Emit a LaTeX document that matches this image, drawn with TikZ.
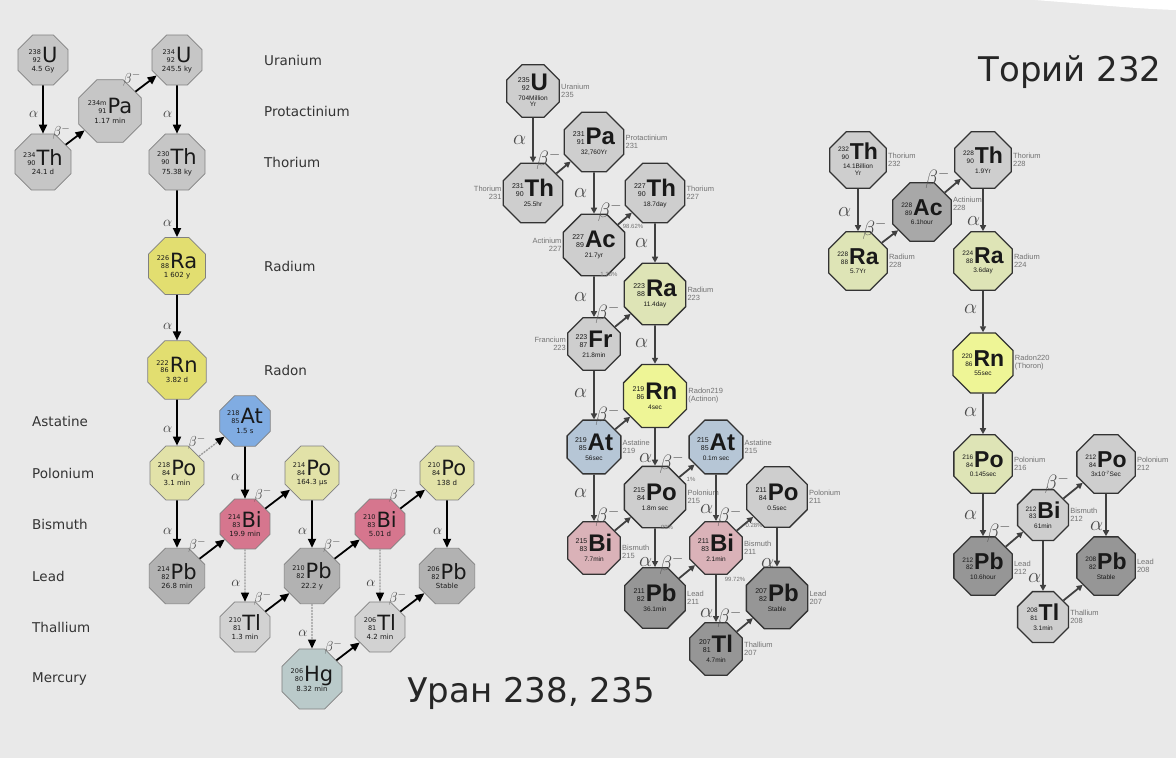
\documentclass[tikz,border=0pt]{standalone}
\usepackage{fontspec}
\setmainfont{DejaVu Sans}
\newfontfamily\symfont{Liberation Sans}
\usetikzlibrary{shapes.geometric,arrows.meta}

% colours
\definecolor{bgc}{RGB}{233,233,233}
\definecolor{gry}{RGB}{198,198,198}
\definecolor{pbg}{RGB}{178,178,178}
\definecolor{tlg}{RGB}{210,210,210}
\definecolor{ylw}{RGB}{226,222,112}
\definecolor{poy}{RGB}{226,226,168}
\definecolor{atb}{RGB}{128,172,226}
\definecolor{bip}{RGB}{214,118,142}
\definecolor{hgb}{RGB}{186,202,202}
\definecolor{mgry}{RGB}{206,206,206}
\definecolor{mdrk}{RGB}{150,150,150}
\definecolor{macg}{RGB}{168,168,168}
\definecolor{mra}{RGB}{222,228,182}
\definecolor{mrn}{RGB}{238,245,150}
\definecolor{mat}{RGB}{182,198,214}
\definecolor{mbi}{RGB}{218,178,184}

% isotope text: mass, charge, symbol, half-life
\def\numsz{6}\def\hlsz{6.5}
\newcommand{\iso}[4]{{\mdseries\fontsize{\numsz}{\numsz}\selectfont\shortstack[r]{#1\\#2}}\kern1pt#3\\[-1pt]{\mdseries\fontsize{\hlsz}{\hlsz}\selectfont #4}}
\newcommand{\twoline}[2]{\begin{tabular}[t]{@{}c@{}}#1\\#2\end{tabular}}

\tikzset{
  nuc/.style={regular polygon, regular polygon sides=8, minimum size=54pt, inner sep=0pt,
    draw=black!50, line width=0.7pt, align=center, text=black!90,
    font=\def\numsz{6.5}\def\hlsz{7}\fontsize{21}{10.5}\selectfont},
  nucm/.style={nuc, minimum size=57pt, draw=black!80, line width=1.3pt,
    font=\def\numsz{7}\def\hlsz{6.5}\symfont\bfseries\fontsize{24}{11}\selectfont},
  nucr/.style={nucm, minimum size=55pt,
    font=\def\numsz{6.5}\def\hlsz{6.5}\symfont\bfseries\fontsize{23}{10.5}\selectfont},
  elem/.style={font=\fontsize{13.5}{14}\selectfont, text=black!80, anchor=west, inner sep=0pt},
  side/.style={font=\symfont\fontsize{7.5}{8}\selectfont, text=black!55, align=left, inner sep=1pt},
  pct/.style={font=\symfont\fontsize{6}{7}\selectfont, text=black!55, inner sep=0pt},
  decay/.style={-{Triangle[length=9pt,width=8pt]}, line width=1.8pt},
  branch/.style={-{Triangle[length=9pt,width=8pt,black]}, line width=1.3pt, draw=black!40,
    dash pattern=on 2pt off 1pt},
  decaym/.style={-{Triangle[length=6pt,width=6pt]}, line width=1.8pt, draw=black!75},
  lbl/.style={font=\fontsize{15}{15}\selectfont, text=black!75, inner sep=1pt},
  lblm/.style={font=\fontsize{20}{20}\selectfont, text=black!70, inner sep=1pt},
}

\begin{document}
\begin{tikzpicture}[x=1pt, y=-1pt]

  \useasboundingbox (0,0) rectangle (1176,758);
  \fill[bgc] (0,0) rectangle (1176,758);
  \fill[white] (1035,0) .. controls (1100,5) and (1140,9) .. (1176,10) -- (1176,0) -- cycle;

  % ---- uranium 238 series
  \node[nuc, fill=gry] (u238) at (43,60) {\iso{238}{92}{U}{4.5 Gy}};
  \node[nuc, fill=gry] (th234) at (43,162) {\iso{234}{90}{Th}{24.1 d}};
  \node[nuc, fill=gry] (pa234) at (110,111) {\iso{234m}{91}{Pa}{1.17 min}};
  \node[nuc, fill=gry] (u234) at (177,60) {\iso{234}{92}{U}{245.5 ky}};
  \node[nuc, fill=gry] (th230) at (177,162) {\iso{230}{90}{Th}{75.38 ky}};
  \node[nuc, fill=ylw] (ra226) at (177,266) {\iso{226}{88}{Ra}{1 602 y}};
  \node[nuc, fill=ylw] (rn222) at (177,370) {\iso{222}{86}{Rn}{3.82 d}};
  \node[nuc, fill=atb] (at218) at (245,421) {\iso{218}{85}{At}{1.5 s}};
  \node[nuc, fill=poy] (po218) at (177,473) {\iso{218}{84}{Po}{3.1 min}};
  \node[nuc, fill=pbg] (pb214) at (177,576) {\iso{214}{82}{Pb}{26.8 min}};
  \node[nuc, fill=bip] (bi214) at (245,524) {\iso{214}{83}{Bi}{19.9 min}};
  \node[nuc, fill=poy] (po214) at (312,473) {\iso{214}{84}{Po}{164.3 μs}};
  \node[nuc, fill=tlg] (tl210) at (245,627) {\iso{210}{81}{Tl}{1.3 min}};
  \node[nuc, fill=pbg] (pb210) at (312,576) {\iso{210}{82}{Pb}{22.2 y}};
  \node[nuc, fill=bip] (bi210) at (380,524) {\iso{210}{83}{Bi}{5.01 d}};
  \node[nuc, fill=poy] (po210) at (447,473) {\iso{210}{84}{Po}{138 d}};
  \node[nuc, fill=hgb] (hg206) at (312,679) {\iso{206}{80}{Hg}{8.32 min}};
  \node[nuc, fill=tlg] (tl206) at (380,627) {\iso{206}{81}{Tl}{4.2 min}};
  \node[nuc, fill=pbg] (pb206) at (447,576) {\iso{206}{82}{Pb}{Stable}};

  \node[elem] (n-u) at (264,60) {Uranium};
  \node[elem] (n-pa) at (264,111) {Protactinium};
  \node[elem] (n-th) at (264,162) {Thorium};
  \node[elem] (n-ra) at (264,266) {Radium};
  \node[elem] (n-rn) at (264,370) {Radon};
  \node[elem] (n-at) at (32,421) {Astatine};
  \node[elem] (n-po) at (32,473) {Polonium};
  \node[elem] (n-bi) at (32,524) {Bismuth};
  \node[elem] (n-pb) at (32,576) {Lead};
  \node[elem] (n-tl) at (32,627) {Thallium};
  \node[elem] (n-hg) at (32,679) {Mercury};

  \draw[decay] (u238) -- node[lbl, pos=.6, left=3pt] (a1) {$\alpha$} (th234);
  \draw[decay] (th234) -- node[lbl, pos=.3, above left=-1pt] (b1) {$\beta^-$} (pa234);
  \draw[decay] (pa234) -- node[lbl, pos=.3, above left=-1pt] (b2) {$\beta^-$} (u234);
  \draw[decay] (u234) -- node[lbl, pos=.6, left=3pt] (a2) {$\alpha$} (th230);
  \draw[decay] (th230) -- node[lbl, pos=.7, left=3pt] (a3) {$\alpha$} (ra226);
  \draw[decay] (ra226) -- node[lbl, pos=.7, left=3pt] (a4) {$\alpha$} (rn222);
  \draw[decay] (rn222) -- node[lbl, pos=.65, left=3pt] (a5) {$\alpha$} (po218);
  \draw[branch] (po218) -- node[lbl, pos=.3, above left=-1pt] (b3) {$\beta^-$} (at218);
  \draw[decay] (po218) -- node[lbl, pos=.65, left=3pt] (a6) {$\alpha$} (pb214);
  \draw[decay] (at218) -- node[lbl, pos=.6, left=3pt] (a7) {$\alpha$} (bi214);
  \draw[decay] (pb214) -- node[lbl, pos=.3, above left=-1pt] (b4) {$\beta^-$} (bi214);
  \draw[decay] (bi214) -- node[lbl, pos=.3, above left=-1pt] (b5) {$\beta^-$} (po214);
  \draw[branch] (bi214) -- node[lbl, pos=.65, left=3pt] (a8) {$\alpha$} (tl210);
  \draw[decay] (po214) -- node[lbl, pos=.65, left=3pt] (a9) {$\alpha$} (pb210);
  \draw[decay] (tl210) -- node[lbl, pos=.3, above left=-1pt] (b6) {$\beta^-$} (pb210);
  \draw[decay] (pb210) -- node[lbl, pos=.3, above left=-1pt] (b7) {$\beta^-$} (bi210);
  \draw[branch] (pb210) -- node[lbl, pos=.65, left=3pt] (a10) {$\alpha$} (hg206);
  \draw[decay] (bi210) -- node[lbl, pos=.3, above left=-1pt] (b8) {$\beta^-$} (po210);
  \draw[branch] (bi210) -- node[lbl, pos=.65, left=3pt] (a11) {$\alpha$} (tl206);
  \draw[decay] (po210) -- node[lbl, pos=.65, left=3pt] (a12) {$\alpha$} (pb206);
  \draw[decay] (hg206) -- node[lbl, pos=.3, above left=-1pt] (b9) {$\beta^-$} (tl206);
  \draw[decay] (tl206) -- node[lbl, pos=.3, above left=-1pt] (b10) {$\beta^-$} (pb206);

  % ---- uranium 235 series
  \node[nucm, fill=mgry] (u235) at (533,91) {\iso{235}{92}{U}{\twoline{704Million}{Yr}}};
  \node[nucm, fill=mgry] (pa231) at (594,142) {\iso{231}{91}{Pa}{32,760Yr}};
  \node[nucm, fill=mgry] (th231) at (533,193) {\iso{231}{90}{Th}{25.5hr}};
  \node[nucm, fill=mgry] (ac227) at (594,245) {\iso{227}{89}{Ac}{21.7yr}};
  \node[nucm, fill=mgry] (th227) at (655,193) {\iso{227}{90}{Th}{18.7day}};
  \node[nucm, fill=mra] (ra223) at (655,294) {\iso{223}{88}{Ra}{11.4day}};
  \node[nucm, fill=mgry] (fr223) at (594,344) {\iso{223}{87}{Fr}{21.8min}};
  \node[nucm, fill=mrn] (rn219) at (655,396) {\iso{219}{86}{Rn}{4sec}};
  \node[nucm, fill=mat] (at219) at (594,447) {\iso{219}{85}{At}{56sec}};
  \node[nucm, fill=mgry] (po215) at (655,497) {\iso{215}{84}{Po}{1.8m sec}};
  \node[nucm, fill=mbi] (bi215) at (594,548) {\iso{215}{83}{Bi}{7.7min}};
  \node[nucm, fill=mat] (at215) at (716,447) {\iso{215}{85}{At}{0.1m sec}};
  \node[nucm, fill=mbi] (bi211) at (716,548) {\iso{211}{83}{Bi}{2.1min}};
  \node[nucm, fill=mgry] (po211) at (777,497) {\iso{211}{84}{Po}{0.5sec}};
  \node[nucm, fill=mdrk] (pb211) at (655,598) {\iso{211}{82}{Pb}{36.1min}};
  \node[nucm, fill=mdrk] (pb207) at (777,598) {\iso{207}{82}{Pb}{Stable}};
  \node[nucm, fill=mdrk] (tl207) at (716,649) {\iso{207}{81}{Tl}{4.7min}};

  \node[side, anchor=west] (s-u235) at (u235.east) {Uranium\\235};
  \node[side, anchor=west] (s-pa231) at (pa231.east) {Protactinium\\231};
  \node[side, anchor=east, align=right] (s-th231) at (th231.west) {Thorium\\231};
  \node[side, anchor=east, align=right] (s-ac227) at (ac227.west) {Actinium\\227};
  \node[side, anchor=west] (s-th227) at (th227.east) {Thorium\\227};
  \node[side, anchor=west] (s-ra223) at (ra223.east) {Radium\\223};
  \node[side, anchor=east, align=right] (s-fr223) at (fr223.west) {Francium\\223};
  \node[side, anchor=west] (s-rn219) at (rn219.east) {Radon219\\(Actinon)};
  \node[side, anchor=west] (s-at219) at (at219.east) {Astatine\\219};
  \node[side, anchor=west] (s-po215) at (po215.east) {Polonium\\215};
  \node[side, anchor=north west] (s-bi215) at ([yshift=4pt]bi215.east) {Bismuth\\215};
  \node[side, anchor=west] (s-at215) at (at215.east) {Astatine\\215};
  \node[side, anchor=west] (s-bi211) at (bi211.east) {Bismuth\\211};
  \node[side, anchor=west] (s-po211) at (po211.east) {Polonium\\211};
  \node[side, anchor=west] (s-pb211) at (pb211.east) {Lead\\211};
  \node[side, anchor=west] (s-pb207) at (pb207.east) {Lead\\207};
  \node[side, anchor=west] (s-tl207) at (tl207.east) {Thallium\\207};

  \node[pct] (p1) at (633,226) {98.62\%};
  \node[pct] (p2) at (609,274) {1.38\%};
  \node[pct] (p3) at (691,479) {1\%};
  \node[pct] (p4) at (667,527) {99\%};
  \node[pct] (p5) at (754,525) {0.28\%};
  \node[pct] (p6) at (735,579) {99.72\%};

  \draw[decaym] (u235) -- node[lblm, pos=.5, left=5pt] (ma1) {$\alpha$} (th231);
  \draw[decaym] (th231) -- node[lblm, pos=.3, above left=-2pt] (mb1) {$\beta^-$} (pa231);
  \draw[decaym] (pa231) -- node[lblm, pos=.5, left=5pt] (ma2) {$\alpha$} (ac227);
  \draw[decaym] (ac227) -- node[lblm, pos=.3, above left=-2pt] (mb2) {$\beta^-$} (th227);
  \draw[decaym] (ac227) -- node[lblm, pos=.5, left=5pt] (ma3) {$\alpha$} (fr223);
  \draw[decaym] (th227) -- node[lblm, pos=.5, left=5pt] (ma4) {$\alpha$} (ra223);
  \draw[decaym] (fr223) -- node[lblm, pos=.3, above left=-2pt] (mb3) {$\beta^-$} (ra223);
  \draw[decaym] (ra223) -- node[lblm, pos=.45, left=5pt] (ma5) {$\alpha$} (rn219);
  \draw[decaym] (fr223) -- node[lblm, pos=.45, left=5pt] (ma6) {$\alpha$} (at219);
  \draw[decaym] (at219) -- node[lblm, pos=.3, above left=-2pt] (mb4) {$\beta^-$} (rn219);
  \draw[decaym] (rn219) -- node[lblm, pos=.8, left=1pt] (ma7) {$\alpha$} (po215);
  \draw[decaym] (at219) -- node[lblm, pos=.4, left=5pt] (ma8) {$\alpha$} (bi215);
  \draw[decaym] (bi215) -- node[lblm, pos=.3, above left=-2pt] (mb5) {$\beta^-$} (po215);
  \draw[decaym] (po215) -- node[lblm, pos=.3, above left=-2pt] (mb6) {$\beta^-$} (at215);
  \draw[decaym] (po215) -- node[lblm, pos=.88, left=1pt] (ma9) {$\alpha$} (pb211);
  \draw[decaym] (at215) -- node[lblm, pos=.75, left=1pt] (ma10) {$\alpha$} (bi211);
  \draw[decaym] (pb211) -- node[lblm, pos=.3, above left=-2pt] (mb7) {$\beta^-$} (bi211);
  \draw[decaym] (bi211) -- node[lblm, pos=.3, above left=-2pt] (mb8) {$\beta^-$} (po211);
  \draw[decaym] (bi211) -- node[lblm, pos=.8, left=1pt] (ma11) {$\alpha$} (tl207);
  \draw[decaym] (po211) -- node[lblm, pos=.9, left=1pt] (ma12) {$\alpha$} (pb207);
  \draw[decaym] (tl207) -- node[lblm, pos=.3, above left=-2pt] (mb9) {$\beta^-$} (pb207);

  % ---- thorium 232 series
  \node[nucr, fill=mgry] (th232) at (858,160) {\iso{232}{90}{Th}{\twoline{14.1Billion}{Yr}}};
  \node[nucr, fill=macg] (ac228) at (922,212) {\iso{228}{89}{Ac}{6.1hour}};
  \node[nucr, fill=mgry] (th228) at (983,160) {\iso{228}{90}{Th}{1.9Yr}};
  \node[nucr, fill=mra] (ra228) at (858,261) {\iso{228}{88}{Ra}{5.7Yr}};
  \node[nucr, fill=mra] (ra224) at (983,261) {\iso{224}{88}{Ra}{3.6day}};
  \node[nucr, fill=mrn] (rn220) at (983,363) {\iso{220}{86}{Rn}{55sec}};
  \node[nucr, fill=mra] (po216) at (983,464) {\iso{216}{84}{Po}{0.145sec}};
  \node[nucr, fill=mgry] (bi212) at (1043,515) {\iso{212}{83}{Bi}{61min}};
  \node[nucr, fill=mgry] (po212) at (1106,464) {\iso{212}{84}{Po}{\rule{0pt}{7pt}3x10\textsuperscript{-7}Sec}};
  \node[nucr, fill=mdrk] (pb212) at (983,566) {\iso{212}{82}{Pb}{10.6hour}};
  \node[nucr, fill=mdrk] (pb208) at (1106,566) {\iso{208}{82}{Pb}{Stable}};
  \node[nucr, fill=mgry] (tl208) at (1043,617) {\iso{208}{81}{Tl}{3.1min}};

  \node[side, anchor=west] (s-th232) at (th232.east) {Thorium\\232};
  \node[side, anchor=south west] (s-ac228) at (ac228.east) {Actinium\\228};
  \node[side, anchor=west] (s-th228) at (th228.east) {Thorium\\228};
  \node[side, anchor=west] (s-ra228) at (ra228.east) {Radium\\228};
  \node[side, anchor=west] (s-ra224) at (ra224.east) {Radium\\224};
  \node[side, anchor=west] (s-rn220) at (rn220.east) {Radon220\\(Thoron)};
  \node[side, anchor=west] (s-po216) at (po216.east) {Polonium\\216};
  \node[side, anchor=west] (s-bi212) at (bi212.east) {Bismuth\\212};
  \node[side, anchor=west] (s-po212) at (po212.east) {Polonium\\212};
  \node[side, anchor=west] (s-pb212) at ([yshift=-2pt]pb212.east) {Lead\\212};
  \node[side, anchor=west] (s-pb208) at (pb208.east) {Lead\\208};
  \node[side, anchor=west] (s-tl208) at (tl208.east) {Thallium\\208};

  \draw[decaym] (th232) -- node[lblm, pos=.55, left=5pt] (ra1) {$\alpha$} (ra228);
  \draw[decaym] (ra228) -- node[lblm, pos=.3, above left=-2pt] (rb1) {$\beta^-$} (ac228);
  \draw[decaym] (ac228) -- node[lblm, pos=.3, above left=-2pt] (rb2) {$\beta^-$} (th228);
  \draw[decaym] (th228) -- node[lblm, pos=.75, left=1pt] (ra2) {$\alpha$} (ra224);
  \draw[decaym] (ra224) -- node[lblm, pos=.45, left=4pt] (ra3) {$\alpha$} (rn220);
  \draw[decaym] (rn220) -- node[lblm, pos=.45, left=4pt] (ra4) {$\alpha$} (po216);
  \draw[decaym] (po216) -- node[lblm, pos=.5, left=4pt] (ra5) {$\alpha$} (pb212);
  \draw[decaym] (pb212) -- node[lblm, pos=.3, above left=-2pt] (rb3) {$\beta^-$} (bi212);
  \draw[decaym] (bi212) -- node[lblm, pos=.3, above left=-2pt] (rb4) {$\beta^-$} (po212);
  \draw[decaym] (bi212) -- node[lblm, pos=.75, left=0pt] (ra6) {$\alpha$} (tl208);
  \draw[decaym] (po212) -- node[lblm, pos=.75, left=1pt] (ra7) {$\alpha$} (pb208);
  \draw[decaym] (tl208) -- (pb208);

  % titles
  \node[font=\fontsize{34}{36}\selectfont, text=black!85] (t-u) at (531,693) {Уран 238, 235};
  \node[font=\fontsize{34}{36}\selectfont, text=black!85] (t-th) at (1070,72) {Торий 232};

\end{tikzpicture}
\end{document}
